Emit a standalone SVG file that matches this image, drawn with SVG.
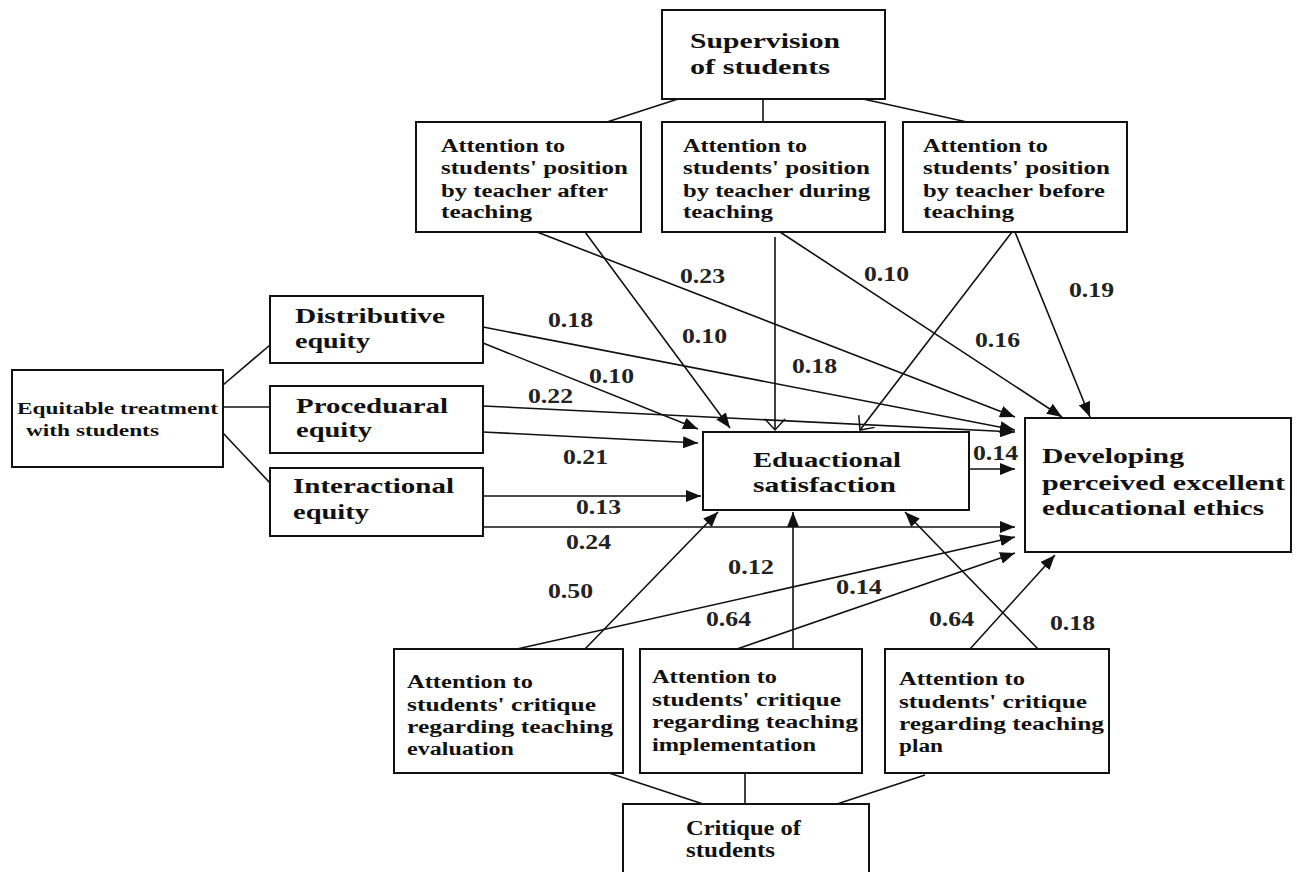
<svg xmlns="http://www.w3.org/2000/svg" width="1297" height="872" viewBox="0 0 1297 872">
<style>
.box{fill:#fff;stroke:#111;stroke-width:2}
.t{font-family:"Liberation Serif","Times New Roman",serif;font-weight:bold;fill:#111}
.s18{font-size:18px}
.s17{font-size:17px}
.s20{font-size:20px}
.s22{font-size:22px}
.lbl{font-family:"Liberation Serif","Times New Roman",serif;font-weight:bold;font-size:20px;fill:#222}
.ln{stroke:#111;stroke-width:1.6;fill:none}
.ar{stroke:#111;stroke-width:1.6;fill:none;marker-end:url(#ah)}
.ov{stroke:#111;stroke-width:1.6;fill:none;marker-end:url(#av)}
</style>
<defs>
<marker id="ah" markerUnits="userSpaceOnUse" markerWidth="16" markerHeight="12" refX="15" refY="6" orient="auto">
<path d="M0,0 L15,6 L0,12 z" fill="#111"/>
</marker>
<marker id="av" markerUnits="userSpaceOnUse" markerWidth="14" markerHeight="22" refX="12" refY="11" orient="auto">
<path d="M1,1 L12,11 L1,21" fill="none" stroke="#111" stroke-width="1.5"/>
</marker>
</defs>
<rect width="1297" height="872" fill="#fff"/>

<g id="connectors">
<line class="ln" x1="678" y1="99" x2="607" y2="122"/>
<line class="ln" x1="763" y1="99" x2="763" y2="122"/>
<line class="ln" x1="863" y1="99" x2="967" y2="122"/>
<line class="ln" x1="223" y1="385" x2="270" y2="345"/>
<line class="ln" x1="223" y1="407" x2="270" y2="407"/>
<line class="ln" x1="223" y1="433" x2="270" y2="483"/>
<line class="ln" x1="609" y1="773" x2="703" y2="804"/>
<line class="ln" x1="745" y1="773" x2="745" y2="804"/>
<line class="ln" x1="925" y1="775" x2="837" y2="804"/>

<line class="ar" x1="537" y1="232" x2="1015" y2="417"/>
<line class="ar" x1="585" y1="232" x2="730" y2="428"/>
<line class="ar" x1="780" y1="232" x2="1062" y2="417"/>
<line class="ar" x1="1015" y1="232" x2="1090" y2="417"/>
<line class="ar" x1="483" y1="327" x2="1015" y2="430"/>
<line class="ar" x1="483" y1="343" x2="698" y2="429"/>
<line class="ar" x1="483" y1="406" x2="1015" y2="432"/>
<line class="ar" x1="483" y1="432" x2="698" y2="443"/>
<line class="ar" x1="483" y1="496" x2="701" y2="496"/>
<line class="ar" x1="483" y1="527" x2="1015" y2="527"/>
<line class="ar" x1="969" y1="469" x2="1015" y2="469"/>
<line class="ar" x1="585" y1="649" x2="718" y2="512"/>
<line class="ar" x1="517" y1="649" x2="1015" y2="537"/>
<line class="ar" x1="793" y1="649" x2="793" y2="512"/>
<line class="ar" x1="737" y1="649" x2="1015" y2="553"/>
<line class="ar" x1="1038" y1="649" x2="905" y2="512"/>
<line class="ar" x1="970" y1="649" x2="1055" y2="555"/>
<line class="ov" x1="775" y1="237" x2="775" y2="430"/>
<line class="ov" x1="1012" y1="232" x2="860" y2="430"/>
</g>

<g id="labels">
<text class="lbl" x="680" y="283" textLength="45" lengthAdjust="spacingAndGlyphs">0.23</text>
<text class="lbl" x="864" y="281" textLength="45" lengthAdjust="spacingAndGlyphs">0.10</text>
<text class="lbl" x="1069" y="297" textLength="45" lengthAdjust="spacingAndGlyphs">0.19</text>
<text class="lbl" x="548" y="327" textLength="45" lengthAdjust="spacingAndGlyphs">0.18</text>
<text class="lbl" x="682" y="343" textLength="45" lengthAdjust="spacingAndGlyphs">0.10</text>
<text class="lbl" x="975" y="347" textLength="45" lengthAdjust="spacingAndGlyphs">0.16</text>
<text class="lbl" x="792" y="373" textLength="45" lengthAdjust="spacingAndGlyphs">0.18</text>
<text class="lbl" x="589" y="383" textLength="45" lengthAdjust="spacingAndGlyphs">0.10</text>
<text class="lbl" x="528" y="403" textLength="45" lengthAdjust="spacingAndGlyphs">0.22</text>
<text class="lbl" x="973" y="460" textLength="45" lengthAdjust="spacingAndGlyphs">0.14</text>
<text class="lbl" x="563" y="464" textLength="45" lengthAdjust="spacingAndGlyphs">0.21</text>
<text class="lbl" x="576" y="514" textLength="45" lengthAdjust="spacingAndGlyphs">0.13</text>
<text class="lbl" x="566" y="549" textLength="45" lengthAdjust="spacingAndGlyphs">0.24</text>
<text class="lbl" x="728" y="574" textLength="46" lengthAdjust="spacingAndGlyphs">0.12</text>
<text class="lbl" x="548" y="598" textLength="45" lengthAdjust="spacingAndGlyphs">0.50</text>
<text class="lbl" x="836" y="594" textLength="46" lengthAdjust="spacingAndGlyphs">0.14</text>
<text class="lbl" x="706" y="626" textLength="45" lengthAdjust="spacingAndGlyphs">0.64</text>
<text class="lbl" x="929" y="626" textLength="45" lengthAdjust="spacingAndGlyphs">0.64</text>
<text class="lbl" x="1050" y="630" textLength="45" lengthAdjust="spacingAndGlyphs">0.18</text>
</g>

<g id="supervision">
<rect class="box" x="662" y="10" width="223" height="89"/>
<text class="t s22" x="690" y="48" textLength="150" lengthAdjust="spacingAndGlyphs">Supervision</text>
<text class="t s22" x="690" y="74" textLength="140" lengthAdjust="spacingAndGlyphs">of students</text>
</g>

<g id="pos-after">
<rect class="box" x="416" y="122" width="225" height="110"/>
<text class="t s18" x="441" y="152" textLength="124" lengthAdjust="spacingAndGlyphs">Attention to</text>
<text class="t s18" x="441" y="174" textLength="187" lengthAdjust="spacingAndGlyphs">students' position</text>
<text class="t s18" x="441" y="197" textLength="167" lengthAdjust="spacingAndGlyphs">by teacher after</text>
<text class="t s18" x="441" y="218" textLength="91" lengthAdjust="spacingAndGlyphs">teaching</text>
</g>

<g id="pos-during">
<rect class="box" x="662" y="122" width="223" height="110"/>
<text class="t s18" x="683" y="152" textLength="124" lengthAdjust="spacingAndGlyphs">Attention to</text>
<text class="t s18" x="683" y="174" textLength="187" lengthAdjust="spacingAndGlyphs">students' position</text>
<text class="t s18" x="683" y="197" textLength="187" lengthAdjust="spacingAndGlyphs">by teacher during</text>
<text class="t s18" x="683" y="218" textLength="90" lengthAdjust="spacingAndGlyphs">teaching</text>
</g>

<g id="pos-before">
<rect class="box" x="903" y="122" width="224" height="110"/>
<text class="t s18" x="923" y="152" textLength="125" lengthAdjust="spacingAndGlyphs">Attention to</text>
<text class="t s18" x="923" y="174" textLength="187" lengthAdjust="spacingAndGlyphs">students' position</text>
<text class="t s18" x="923" y="197" textLength="182" lengthAdjust="spacingAndGlyphs">by teacher before</text>
<text class="t s18" x="923" y="218" textLength="91" lengthAdjust="spacingAndGlyphs">teaching</text>
</g>

<g id="equitable">
<rect class="box" x="12" y="370" width="211" height="97"/>
<text class="t s17" x="17" y="414" textLength="201" lengthAdjust="spacingAndGlyphs">Equitable treatment</text>
<text class="t s17" x="26" y="436" textLength="133" lengthAdjust="spacingAndGlyphs">with students</text>
</g>

<g id="distributive">
<rect class="box" x="270" y="296" width="213" height="67"/>
<text class="t s22" x="295" y="323" textLength="150" lengthAdjust="spacingAndGlyphs">Distributive</text>
<text class="t s22" x="295" y="348" textLength="75" lengthAdjust="spacingAndGlyphs">equity</text>
</g>

<g id="procedural">
<rect class="box" x="270" y="386" width="213" height="67"/>
<text class="t s22" x="296" y="413" textLength="152" lengthAdjust="spacingAndGlyphs">Proceduaral</text>
<text class="t s22" x="296" y="437" textLength="76" lengthAdjust="spacingAndGlyphs">equity</text>
</g>

<g id="interactional">
<rect class="box" x="270" y="468" width="213" height="68"/>
<text class="t s22" x="293" y="493" textLength="161" lengthAdjust="spacingAndGlyphs">Interactional</text>
<text class="t s22" x="293" y="519" textLength="76" lengthAdjust="spacingAndGlyphs">equity</text>
</g>

<g id="satisfaction">
<rect class="box" x="703" y="432" width="266" height="78"/>
<text class="t s22" x="753" y="467" textLength="148" lengthAdjust="spacingAndGlyphs">Eduactional</text>
<text class="t s22" x="753" y="492" textLength="143" lengthAdjust="spacingAndGlyphs">satisfaction</text>
</g>

<g id="ethics">
<rect class="box" x="1025" y="418" width="266" height="134"/>
<text class="t s20" x="1042" y="463" textLength="142" lengthAdjust="spacingAndGlyphs">Developing</text>
<text class="t s20" x="1042" y="490" textLength="243" lengthAdjust="spacingAndGlyphs">perceived excellent</text>
<text class="t s20" x="1042" y="515" textLength="222" lengthAdjust="spacingAndGlyphs">educational ethics</text>
</g>

<g id="crit-eval">
<rect class="box" x="394" y="649" width="229" height="124"/>
<text class="t s18" x="407" y="688" textLength="126" lengthAdjust="spacingAndGlyphs">Attention to</text>
<text class="t s18" x="407" y="711" textLength="189" lengthAdjust="spacingAndGlyphs">students' critique</text>
<text class="t s18" x="407" y="733" textLength="206" lengthAdjust="spacingAndGlyphs">regarding teaching</text>
<text class="t s18" x="407" y="755" textLength="107" lengthAdjust="spacingAndGlyphs">evaluation</text>
</g>

<g id="crit-impl">
<rect class="box" x="640" y="649" width="222" height="124"/>
<text class="t s18" x="652" y="683" textLength="125" lengthAdjust="spacingAndGlyphs">Attention to</text>
<text class="t s18" x="652" y="706" textLength="189" lengthAdjust="spacingAndGlyphs">students' critique</text>
<text class="t s18" x="652" y="728" textLength="206" lengthAdjust="spacingAndGlyphs">regarding teaching</text>
<text class="t s18" x="652" y="751" textLength="164" lengthAdjust="spacingAndGlyphs">implementation</text>
</g>

<g id="crit-plan">
<rect class="box" x="885" y="649" width="224" height="124"/>
<text class="t s18" x="899" y="685" textLength="126" lengthAdjust="spacingAndGlyphs">Attention to</text>
<text class="t s18" x="899" y="708" textLength="188" lengthAdjust="spacingAndGlyphs">students' critique</text>
<text class="t s18" x="899" y="730" textLength="205" lengthAdjust="spacingAndGlyphs">regarding teaching</text>
<text class="t s18" x="899" y="752" textLength="44" lengthAdjust="spacingAndGlyphs">plan</text>
</g>

<g id="critique">
<rect class="box" x="623" y="804" width="246" height="80"/>
<text class="t s20" x="686" y="835" textLength="115" lengthAdjust="spacingAndGlyphs">Critique of</text>
<text class="t s20" x="686" y="857" textLength="89" lengthAdjust="spacingAndGlyphs">students</text>
</g>
</svg>
